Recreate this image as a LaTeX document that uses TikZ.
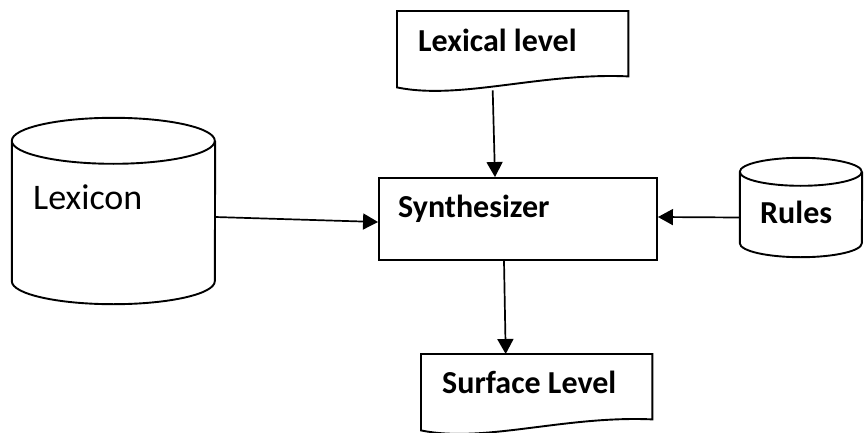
\documentclass[tikz,border=0pt]{standalone}
\usepackage{fontspec}
\setmainfont{Carlito}
\usepackage{tikz}
\usetikzlibrary{shapes}
\usetikzlibrary{arrows.meta}
\usetikzlibrary{positioning}

% outline of a document shape (wavy bottom) around a named node
\newcommand{\docoutline}[1]{%
  \draw[thick line] (#1.north west) -- (#1.north east) -- ([yshift=11pt]#1.south east)
    .. controls +(-88,-4) and +(63,13) .. (#1.south west) -- cycle;}
% outline of a store (cylinder); the node spans from top to bottom ellipse centre
\newcommand{\storeoutline}[3]{%
  \draw[thick line] (#1.north west) arc[start angle=180,end angle=540,x radius=#2pt,y radius=#3pt]
    -- (#1.south west) arc[start angle=180,end angle=360,x radius=#2pt,y radius=#3pt]
    -- (#1.north east);}

\begin{document}
\begin{tikzpicture}[x=1pt,y=-1pt,
    thick line/.style={line width=1.9pt},
    flow/.style={line width=1.7pt,-{Triangle[length=15pt,width=16pt]}},
    label text/.style={inner sep=0pt,anchor=base west,font=\fontsize{32}{38}\selectfont\bfseries},
    docbox/.style={rectangle,inner sep=0pt,minimum width=231pt,minimum height=76pt,anchor=north west},
    store/.style={rectangle,inner sep=0pt}]
  \useasboundingbox (0,0) rectangle (864,433);
  \clip (0,0) rectangle (864,433);

  % lexical level (top document)
  \node[docbox] (lexical) at (397,11) {};
  \docoutline{lexical}
  \node[label text] (lexicaltext) at (418,52) {Lexical level};

  % synthesizer
  \node[draw,thick line,minimum width=278pt,minimum height=82pt] (synth) at (518,219) {};
  \node[label text] (synthtext) at (398,217) {Synthesizer};

  % lexicon store
  \node[store,minimum width=203pt,minimum height=140pt] (lexicon) at (113.5,211) {};
  \storeoutline{lexicon}{101.5}{23}
  \node[label text,font=\fontsize{36}{42}\selectfont] (lexicontext) at (33,209) {Lexicon};

  % rules store
  \node[store,minimum width=122pt,minimum height=71pt] (rules) at (801,207.5) {};
  \storeoutline{rules}{61}{14}
  \node[label text] (rulestext) at (760,223) {Rules};

  % surface level (bottom document)
  \node[docbox] (surface) at (421,354) {};
  \docoutline{surface}
  \node[label text] (surfacetext) at (442,393) {Surface Level};

  \draw[flow] ([xshift=-20pt,yshift=-3pt]lexical.south) -- ([xshift=-23pt]synth.north);
  \draw[flow] ([yshift=-6pt]lexicon.east) -- ([yshift=-3pt]synth.west);
  \draw[flow] ([yshift=-10pt]rules.west) -- ([yshift=2pt]synth.east);
  \draw[flow] ([xshift=-14pt]synth.south) -- ([xshift=-31pt]surface.north);
\end{tikzpicture}
\end{document}
